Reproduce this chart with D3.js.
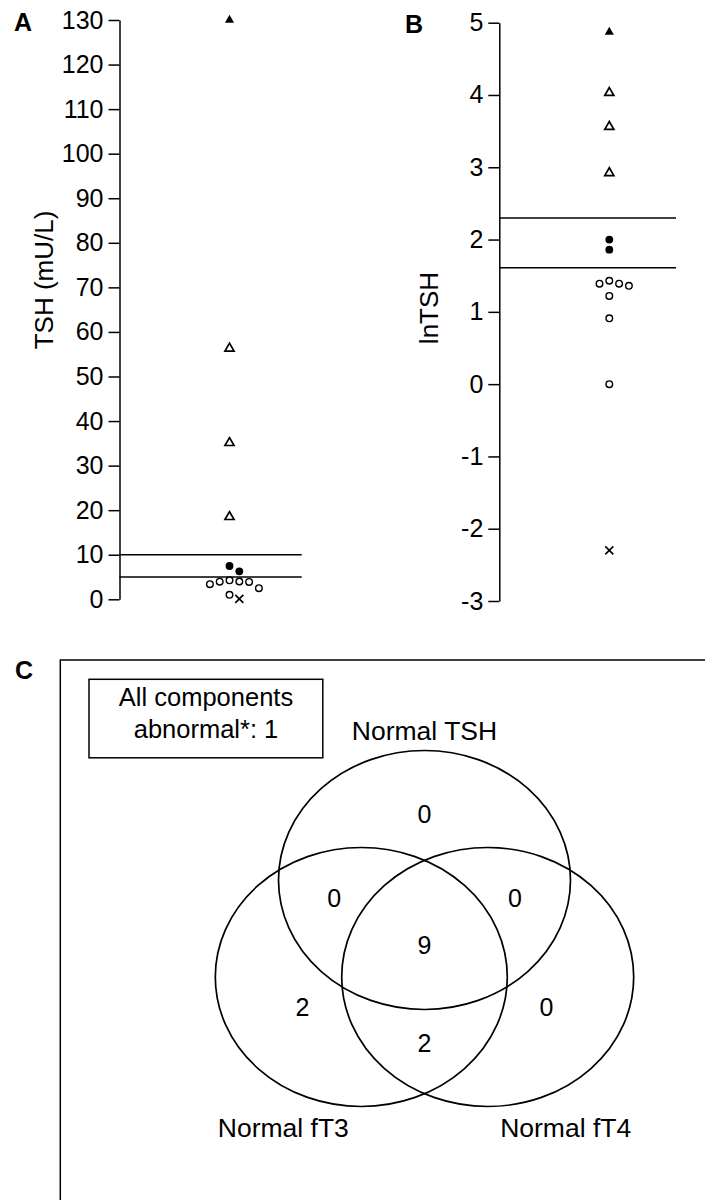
<!DOCTYPE html>
<html>
<head>
<meta charset="utf-8">
<script src="https://cdn.jsdelivr.net/npm/d3@7"></script>
<style>
  body { margin: 0; background: #fff; }
  svg { display: block; font-family: "Liberation Sans", Arial, Helvetica, sans-serif; }
  .axis path, .axis line { stroke: #000; stroke-width: 1.5px; }
  .axis text { fill: #000; }
  .ref-line { stroke: #000; stroke-width: 1.5px; }
  .panel-letter { font-weight: bold; font-size: 25px; }
</style>
</head>
<body>
<svg id="canvas" width="705" height="1200"></svg>
<script>
// Marker type of every subject, same order in panels A and B
var GROUPS = [
  'filledTriangle', 'openTriangle', 'openTriangle', 'openTriangle',
  'filledCircle', 'filledCircle',
  'openCircle', 'openCircle', 'openCircle', 'openCircle', 'openCircle', 'openCircle', 'openCircle',
  'cross'
];

// Panel A: TSH (mU/L)
var TSH_VALUES = [130, 56.3, 35.1, 18.5, 7.47, 6.28, 4.25, 4.0, 3.95, 3.9, 3.4, 2.5, 1.0, 0.1];
var TSH_TICKS = [0, 10, 20, 30, 40, 50, 60, 70, 80, 90, 100, 110, 120, 130];
var TSH_LIMITS = [5, 10];

// Panel B: lnTSH
var LN_TSH_VALUES = [4.87, 4.03, 3.56, 2.92, 2.0, 1.86, 1.43, 1.39, 1.39, 1.36, 1.22, 0.91, 0.0, -2.3];
var LN_TSH_TICKS = [-3, -2, -1, 0, 1, 2, 3, 4, 5];
var LN_TSH_LIMITS = [1.61, 2.3];

// Panel C: Venn diagram of normal components
var VENN_SETS = ['Normal TSH', 'Normal fT3', 'Normal fT4'];
var VENN_REGIONS = [[0], [1], [2], [0, 1], [0, 2], [1, 2], [0, 1, 2]];
var VENN_COUNTS = [0, 2, 0, 0, 0, 2, 9];
var ALL_ABNORMAL = 1;

var canvas = d3.select('#canvas');

/**
 * Spreads points sideways so markers at similar heights do not overlap.
 * Slots are tried in the order 0, +1, -1, +2, -2 ...
 */
function swarm(values, yScale, cx, step) {
  var placed = [];
  var xs = [];
  var order = d3.range(values.length).sort(function (a, b) {
    return values[b] - values[a];
  });
  order.forEach(function (i) {
    var y = yScale(values[i]);
    for (var k = 0; ; k++) {
      var slot = k === 0 ? 0 : (k % 2 ? (k + 1) / 2 : -k / 2);
      var hit = placed.some(function (p) {
        return p.slot === slot && Math.abs(p.y - y) < step;
      });
      if (!hit) {
        placed.push({ slot: slot, y: y });
        xs[i] = cx + slot * step;
        break;
      }
    }
  });
  return xs;
}

/**
 * Draws one dot-plot panel: axis, reference lines and markers.
 */
function drawPanel(opts) {
  var y = d3.scaleLinear().domain(opts.domain).range(opts.yRange);
  var x = d3.scalePoint().domain(['all']).range([opts.axisX, opts.axisX + 220]);

  var g = canvas.append('g');

  // Plain hyphen for negatives, as in the original figure
  var axis = d3.axisLeft(y)
    .tickValues(opts.ticks)
    .tickFormat(function (d) { return String(d); })
    .tickSize(11)
    .tickSizeOuter(0)
    .tickPadding(5);

  g.append('g')
    .attr('class', 'axis')
    .attr('transform', 'translate(' + opts.axisX + ',0)')
    .call(axis)
    .attr('font-size', 25)
    .attr('font-family', null);

  // Reference range lines
  g.selectAll('.ref-line')
    .data(opts.limits)
    .enter()
    .append('line')
    .attr('class', 'ref-line')
    .attr('x1', opts.axisX)
    .attr('x2', opts.lineEnd)
    .attr('y1', function (d) { return y(d); })
    .attr('y2', function (d) { return y(d); });

  // Axis title
  g.append('text')
    .attr('transform', 'translate(' + opts.titleX + ',' + opts.titleY + ') rotate(-90)')
    .attr('text-anchor', 'middle')
    .attr('font-size', 26)
    .text(opts.title);

  g.append('text')
    .attr('class', 'panel-letter')
    .attr('x', opts.letterX)
    .attr('y', opts.letterY)
    .text(opts.letter);

  var xs = swarm(opts.values, y, x('all'), 9.8);

  var points = g.selectAll('.pt')
    .data(opts.values.map(function (v, i) {
      return { value: v, group: GROUPS[i], x: xs[i] };
    }))
    .enter()
    .append('g')
    .attr('class', 'pt')
    .attr('transform', function (d) {
      return 'translate(' + d.x + ',' + y(d.value) + ')';
    });

  points.each(function (d) {
    var el = d3.select(this);
    if (d.group === 'openCircle') {
      el.append('circle').attr('r', 3.3)
        .attr('fill', '#fff').attr('stroke', '#000').attr('stroke-width', 1.4);
    } else if (d.group === 'filledCircle') {
      el.append('circle').attr('r', 3.9).attr('fill', '#000');
    } else if (d.group === 'openTriangle') {
      el.append('path').attr('d', d3.symbol(d3.symbolTriangle, 36)())
        .attr('fill', '#fff').attr('stroke', '#000').attr('stroke-width', 1.7);
    } else if (d.group === 'filledTriangle') {
      el.append('path').attr('d', d3.symbol(d3.symbolTriangle, 36)())
        .attr('fill', '#000');
    } else {
      el.append('path').attr('d', d3.symbol(d3.symbolTimes, 44)())
        .attr('fill', 'none').attr('stroke', '#000').attr('stroke-width', 1.6);
    }
  });
}

drawPanel({
  letter: 'A', letterX: 14, letterY: 31,
  title: 'TSH (mU/L)', titleX: 53, titleY: 280,
  values: TSH_VALUES, ticks: TSH_TICKS, limits: TSH_LIMITS,
  domain: [0, 130], yRange: [599.3, 20],
  axisX: 119.5, lineEnd: 301.7
});

drawPanel({
  letter: 'B', letterX: 405, letterY: 33,
  title: 'lnTSH', titleX: 438, titleY: 308,
  values: LN_TSH_VALUES, ticks: LN_TSH_TICKS, limits: LN_TSH_LIMITS,
  domain: [-3, 5], yRange: [601, 22.7],
  axisX: 499.3, lineEnd: 676
});

// ---- Panel C ----
var venn = canvas.append('g');

venn.append('text')
  .attr('class', 'panel-letter')
  .attr('x', 15)
  .attr('y', 679)
  .text('C');

// Frame runs off the right and bottom edges
venn.append('rect')
  .attr('x', 60.3).attr('y', 660)
  .attr('width', 700).attr('height', 700)
  .attr('fill', 'none').attr('stroke', '#000').attr('stroke-width', 1.5);

// Note box
venn.append('rect')
  .attr('x', 89).attr('y', 679.3)
  .attr('width', 233.8).attr('height', 78.5)
  .attr('fill', 'none').attr('stroke', '#000').attr('stroke-width', 1.5);

venn.selectAll('.note')
  .data(['All components', 'abnormal*: ' + ALL_ABNORMAL])
  .enter()
  .append('text')
  .attr('class', 'note')
  .attr('x', 206)
  .attr('y', function (d, i) { return 706 + i * 32.3; })
  .attr('text-anchor', 'middle')
  .attr('font-size', 25.5)
  .text(function (d) { return d; });

// Ellipse layout around a common centroid
var vc = { x: 424.5, y: 944.7 };
var rx = 146;
var ry = 129.5;
var centers = [
  { x: vc.x, y: vc.y - 64.7 },
  { x: vc.x - 63.2, y: vc.y + 32.3 },
  { x: vc.x + 63.2, y: vc.y + 32.3 }
];

venn.selectAll('.set')
  .data(centers)
  .enter()
  .append('ellipse')
  .attr('class', 'set')
  .attr('cx', function (d) { return d.x; })
  .attr('cy', function (d) { return d.y; })
  .attr('rx', rx)
  .attr('ry', ry)
  .attr('fill', 'none')
  .attr('stroke', '#000')
  .attr('stroke-width', 1.7);

// Set labels: top one above, lower ones below and outward
var labelPos = [
  { x: centers[0].x, y: centers[0].y - ry - 11 },
  { x: centers[1].x - 78, y: centers[1].y + 160 },
  { x: centers[2].x + 78, y: centers[2].y + 160 }
];

venn.selectAll('.set-label')
  .data(VENN_SETS)
  .enter()
  .append('text')
  .attr('class', 'set-label')
  .attr('x', function (d, i) { return labelPos[i].x; })
  .attr('y', function (d, i) { return labelPos[i].y; })
  .attr('text-anchor', 'middle')
  .attr('font-size', 26.5)
  .text(function (d) { return d; });

/**
 * Places a region label at the mean of its sets' centres,
 * pushed away from the sets it does not belong to.
 */
function regionPos(sets) {
  var inC = sets.map(function (i) { return centers[i]; });
  var outC = centers.filter(function (c, i) { return sets.indexOf(i) < 0; });
  var p = { x: d3.mean(inC, function (c) { return c.x; }), y: d3.mean(inC, function (c) { return c.y; }) };
  if (!outC.length) return p;
  var o = { x: d3.mean(outC, function (c) { return c.x; }), y: d3.mean(outC, function (c) { return c.y; }) };
  var dx = p.x - o.x;
  var dy = p.y - o.y;
  var len = Math.sqrt(dx * dx + dy * dy);
  return { x: p.x + dx / len * 66, y: p.y + dy / len * 66 };
}

venn.selectAll('.count')
  .data(VENN_REGIONS)
  .enter()
  .append('text')
  .attr('class', 'count')
  .attr('x', function (d) { return regionPos(d).x; })
  .attr('y', function (d) { return regionPos(d).y; })
  .attr('dy', '0.36em')
  .attr('text-anchor', 'middle')
  .attr('font-size', 25)
  .text(function (d, i) { return VENN_COUNTS[i]; });
</script>
</body>
</html>
